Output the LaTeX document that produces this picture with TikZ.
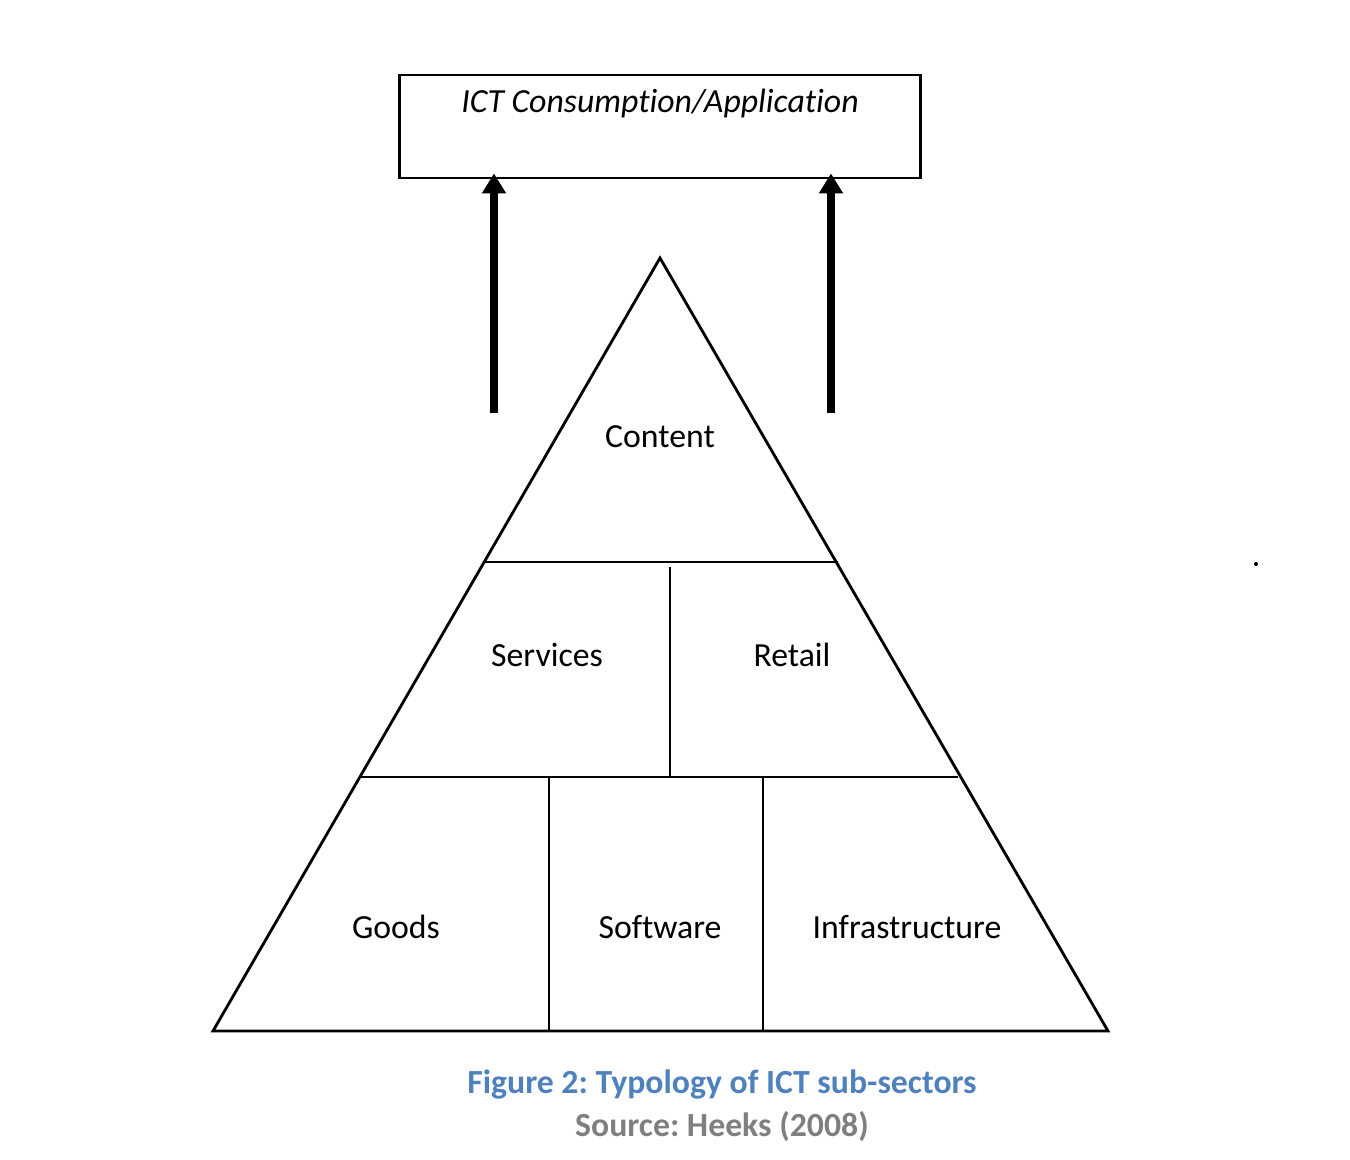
\documentclass[tikz,border=0pt]{standalone}
\usepackage{fontspec}
\setmainfont[RawFeature={-liga;-clig;-calt;-dlig}]{Carlito}
\frenchspacing
\usetikzlibrary{arrows.meta}
\definecolor{capblue}{HTML}{4F81BD}
\definecolor{capgray}{HTML}{7F7F7F}
\tikzset{
    sector/.style={font=\fontsize{9.6}{11}\selectfont},
    uparrow/.style={line width=2.1pt,shorten >=-0.06cm,-{Triangle[width=0.23cm,length=0.2cm]}},
}
\begin{document}
\begin{tikzpicture}[x=0.01cm,y=-0.01cm,thick]
    \useasboundingbox (0,0) rectangle (1350,1160);
    \node[draw,minimum width=5.2cm,minimum height=1.03cm] (app) at (660,126.5) {};
    \node[sector,font=\fontsize{9.6}{11}\selectfont\itshape] (apptext) at (660,103) {ICT Consumption/Application};
    \coordinate (top) at (660,258);
    \coordinate (bl) at (213,1031);
    \coordinate (br) at (1108,1031);
    \draw (top) -- (bl) -- (br) -- cycle;
    \draw (484,562) -- (838,562);
    \draw (360,777) -- (958,777);
    \draw (670,567) -- (670,777);
    \draw (549,777) -- (549,1031);
    \draw (763,777) -- (763,1031);
    \coordinate (la) at (494,413);
    \coordinate (ra) at (831,413);
    \draw[uparrow] (la) -- (la |- app.south);
    \draw[uparrow] (ra) -- (ra |- app.south);
    \node[sector] (content) at (660,437) {Content};
    \node[sector] (services) at (547,655) {Services};
    \node[sector] (retail) at (792,655) {Retail};
    \node[sector] (goods) at (396,927) {Goods};
    \node[sector] (software) at (660,927) {Software};
    \node[sector] (infra) at (907,927) {Infrastructure};
    \fill (1256,564) circle (2);
    \node[font=\fontsize{9.6}{11}\selectfont\bfseries,text=capblue] (caption) at (722,1085) {Figure 2: Typology of ICT sub-sectors};
    \node[font=\fontsize{9.6}{11}\selectfont\bfseries,text=capgray] (source) at (722,1127) {Source: Heeks (2008)};
\end{tikzpicture}
\end{document}
